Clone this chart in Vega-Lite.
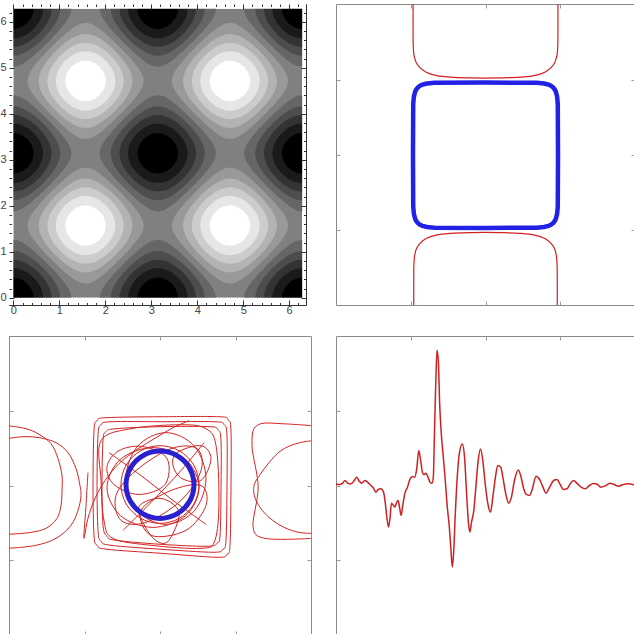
{
"$schema":"https://vega.github.io/schema/vega-lite/v6.json",
"padding":{"left":-1,"top":3,"right":0,"bottom":0},
"background":"white",
"bounds":"flush",
"columns":2,
"spacing":{"row":31,"column":25},
"config":{"axis":{"grid":false,"domain":false,"labelFont":"Liberation Sans","labelFontSize":11,"labelColor":"#444444","zindex":1},"view":{"stroke":"#8a8a8a","strokeWidth":1}},
"concat":[
{"width":297,"height":301,"view":{"stroke":"#333333"},
"layer":[
{"data":{"values":[{"x0":0,"x1":6.2832,"y0":0,"y1":6.2832}]},
"mark":{"type":"rect","color":"#808080","clip":true},
"encoding":{
"x":{"field":"x0","type":"quantitative","scale":{"domain":[-0.094,6.366],"nice":false,"zero":false},
"axis":{"orient":"bottom","zindex":1,"values":[0,0.2,0.4,0.6,0.8,1,1.2,1.4,1.6,1.8,2,2.2,2.4,2.6,2.8,3,3.2,3.4,3.6,3.8,4,4.2,4.4,4.6,4.8,5,5.2,5.4,5.6,5.8,6,6.2],"tickSize":{"condition":{"test":"datum.value % 1 === 0","value":-5},"value":-2.5},"tickColor":"#333333","labelExpr":"datum.value % 1 === 0 ? format(datum.value,'d') : ''","labelOverlap":false,"labelFlush":false,"labelBound":false,"labelPadding":4,"title":null}},
"x2":{"field":"x1"},
"y":{"field":"y0","type":"quantitative","scale":{"domain":[-0.155,6.385],"nice":false,"zero":false},
"axis":{"orient":"left","zindex":1,"values":[0,0.2,0.4,0.6,0.8,1,1.2,1.4,1.6,1.8,2,2.2,2.4,2.6,2.8,3,3.2,3.4,3.6,3.8,4,4.2,4.4,4.6,4.8,5,5.2,5.4,5.6,5.8,6,6.2],"tickSize":{"condition":{"test":"datum.value % 1 === 0","value":-5},"value":-2.5},"tickColor":"#333333","labelExpr":"datum.value % 1 === 0 ? format(datum.value,'d') : ''","labelOverlap":false,"labelFlush":false,"labelBound":false,"labelPadding":8,"title":null}},
"y2":{"field":"y1"}}},
{"data":{"values":[
{"cx":0,"cy":0,"ring":"r5","tone":4},{"cx":3.1416,"cy":0,"ring":"r5","tone":4},{"cx":6.2832,"cy":0,"ring":"r5","tone":4},{"cx":0,"cy":3.1416,"ring":"r5","tone":4},{"cx":3.1416,"cy":3.1416,"ring":"r5","tone":4},{"cx":6.2832,"cy":3.1416,"ring":"r5","tone":4},{"cx":0,"cy":6.2832,"ring":"r5","tone":4},{"cx":3.1416,"cy":6.2832,"ring":"r5","tone":4},{"cx":6.2832,"cy":6.2832,"ring":"r5","tone":4},
{"cx":1.5708,"cy":1.5708,"ring":"r5","tone":6},{"cx":4.7124,"cy":1.5708,"ring":"r5","tone":6},{"cx":1.5708,"cy":4.7124,"ring":"r5","tone":6},{"cx":4.7124,"cy":4.7124,"ring":"r5","tone":6},
{"cx":0,"cy":0,"ring":"r4","tone":3},{"cx":3.1416,"cy":0,"ring":"r4","tone":3},{"cx":6.2832,"cy":0,"ring":"r4","tone":3},{"cx":0,"cy":3.1416,"ring":"r4","tone":3},{"cx":3.1416,"cy":3.1416,"ring":"r4","tone":3},{"cx":6.2832,"cy":3.1416,"ring":"r4","tone":3},{"cx":0,"cy":6.2832,"ring":"r4","tone":3},{"cx":3.1416,"cy":6.2832,"ring":"r4","tone":3},{"cx":6.2832,"cy":6.2832,"ring":"r4","tone":3},
{"cx":1.5708,"cy":1.5708,"ring":"r4","tone":7},{"cx":4.7124,"cy":1.5708,"ring":"r4","tone":7},{"cx":1.5708,"cy":4.7124,"ring":"r4","tone":7},{"cx":4.7124,"cy":4.7124,"ring":"r4","tone":7},
{"cx":0,"cy":0,"ring":"r3","tone":2},{"cx":3.1416,"cy":0,"ring":"r3","tone":2},{"cx":6.2832,"cy":0,"ring":"r3","tone":2},{"cx":0,"cy":3.1416,"ring":"r3","tone":2},{"cx":3.1416,"cy":3.1416,"ring":"r3","tone":2},{"cx":6.2832,"cy":3.1416,"ring":"r3","tone":2},{"cx":0,"cy":6.2832,"ring":"r3","tone":2},{"cx":3.1416,"cy":6.2832,"ring":"r3","tone":2},{"cx":6.2832,"cy":6.2832,"ring":"r3","tone":2},
{"cx":1.5708,"cy":1.5708,"ring":"r3","tone":8},{"cx":4.7124,"cy":1.5708,"ring":"r3","tone":8},{"cx":1.5708,"cy":4.7124,"ring":"r3","tone":8},{"cx":4.7124,"cy":4.7124,"ring":"r3","tone":8},
{"cx":0,"cy":0,"ring":"r2","tone":1},{"cx":3.1416,"cy":0,"ring":"r2","tone":1},{"cx":6.2832,"cy":0,"ring":"r2","tone":1},{"cx":0,"cy":3.1416,"ring":"r2","tone":1},{"cx":3.1416,"cy":3.1416,"ring":"r2","tone":1},{"cx":6.2832,"cy":3.1416,"ring":"r2","tone":1},{"cx":0,"cy":6.2832,"ring":"r2","tone":1},{"cx":3.1416,"cy":6.2832,"ring":"r2","tone":1},{"cx":6.2832,"cy":6.2832,"ring":"r2","tone":1},
{"cx":1.5708,"cy":1.5708,"ring":"r2","tone":9},{"cx":4.7124,"cy":1.5708,"ring":"r2","tone":9},{"cx":1.5708,"cy":4.7124,"ring":"r2","tone":9},{"cx":4.7124,"cy":4.7124,"ring":"r2","tone":9},
{"cx":0,"cy":0,"ring":"r1","tone":0},{"cx":3.1416,"cy":0,"ring":"r1","tone":0},{"cx":6.2832,"cy":0,"ring":"r1","tone":0},{"cx":0,"cy":3.1416,"ring":"r1","tone":0},{"cx":3.1416,"cy":3.1416,"ring":"r1","tone":0},{"cx":6.2832,"cy":3.1416,"ring":"r1","tone":0},{"cx":0,"cy":6.2832,"ring":"r1","tone":0},{"cx":3.1416,"cy":6.2832,"ring":"r1","tone":0},{"cx":6.2832,"cy":6.2832,"ring":"r1","tone":0},
{"cx":1.5708,"cy":1.5708,"ring":"r1","tone":10},{"cx":4.7124,"cy":1.5708,"ring":"r1","tone":10},{"cx":1.5708,"cy":4.7124,"ring":"r1","tone":10},{"cx":4.7124,"cy":4.7124,"ring":"r1","tone":10}
]},
"mark":{"type":"point","filled":true,"opacity":1,"size":8464,"strokeWidth":0,"clip":true},
"encoding":{
"x":{"field":"cx","type":"quantitative","axis":null,"scale":{"domain":[-0.094,6.366],"nice":false,"zero":false}},
"y":{"field":"cy","type":"quantitative","axis":null,"scale":{"domain":[-0.155,6.385],"nice":false,"zero":false}},
"shape":{"field":"ring","type":"nominal","legend":null,"scale":{"domain":["r5","r4","r3","r2","r1"],"range":[
"M0,-1.264L0.1,-1.248L0.2,-1.202L0.3,-1.135L0.4,-1.056L0.5,-0.969L0.6,-0.876L0.7,-0.78L0.74,-0.74L0.78,-0.7L0.876,-0.6L0.969,-0.5L1.056,-0.4L1.135,-0.3L1.202,-0.2L1.248,-0.1L1.264,0L1.248,0.1L1.202,0.2L1.135,0.3L1.056,0.4L0.969,0.5L0.876,0.6L0.78,0.7L0.74,0.74L0.7,0.78L0.6,0.876L0.5,0.969L0.4,1.056L0.3,1.135L0.2,1.202L0.1,1.248L0,1.264L-0.1,1.248L-0.2,1.202L-0.3,1.135L-0.4,1.056L-0.5,0.969L-0.6,0.876L-0.7,0.78L-0.74,0.74L-0.78,0.7L-0.876,0.6L-0.969,0.5L-1.056,0.4L-1.135,0.3L-1.202,0.2L-1.248,0.1L-1.264,0L-1.248,-0.1L-1.202,-0.2L-1.135,-0.3L-1.056,-0.4L-0.969,-0.5L-0.876,-0.6L-0.78,-0.7L-0.74,-0.74L-0.7,-0.78L-0.6,-0.876L-0.5,-0.969L-0.4,-1.056L-0.3,-1.135L-0.2,-1.202L-0.1,-1.248Z",
"M0,-1.021L0.1,-1.01L0.2,-0.978L0.3,-0.927L0.4,-0.861L0.5,-0.783L0.6,-0.693L0.647,-0.647L0.693,-0.6L0.783,-0.5L0.861,-0.4L0.927,-0.3L0.978,-0.2L1.01,-0.1L1.021,0L1.01,0.1L0.978,0.2L0.927,0.3L0.861,0.4L0.783,0.5L0.693,0.6L0.647,0.647L0.6,0.693L0.5,0.783L0.4,0.861L0.3,0.927L0.2,0.978L0.1,1.01L0,1.021L-0.1,1.01L-0.2,0.978L-0.3,0.927L-0.4,0.861L-0.5,0.783L-0.6,0.693L-0.647,0.647L-0.693,0.6L-0.783,0.5L-0.861,0.4L-0.927,0.3L-0.978,0.2L-1.01,0.1L-1.021,0L-1.01,-0.1L-0.978,-0.2L-0.927,-0.3L-0.861,-0.4L-0.783,-0.5L-0.693,-0.6L-0.647,-0.647L-0.6,-0.693L-0.5,-0.783L-0.4,-0.861L-0.3,-0.927L-0.2,-0.978L-0.1,-1.01Z",
"M0,-0.831L0.1,-0.821L0.2,-0.791L0.3,-0.744L0.4,-0.678L0.5,-0.597L0.549,-0.549L0.597,-0.5L0.678,-0.4L0.744,-0.3L0.791,-0.2L0.821,-0.1L0.831,0L0.821,0.1L0.791,0.2L0.744,0.3L0.678,0.4L0.597,0.5L0.549,0.549L0.5,0.597L0.4,0.678L0.3,0.744L0.2,0.791L0.1,0.821L0,0.831L-0.1,0.821L-0.2,0.791L-0.3,0.744L-0.4,0.678L-0.5,0.597L-0.549,0.549L-0.597,0.5L-0.678,0.4L-0.744,0.3L-0.791,0.2L-0.821,0.1L-0.831,0L-0.821,-0.1L-0.791,-0.2L-0.744,-0.3L-0.678,-0.4L-0.597,-0.5L-0.549,-0.549L-0.5,-0.597L-0.4,-0.678L-0.3,-0.744L-0.2,-0.791L-0.1,-0.821Z",
"M0,-0.647L0.1,-0.637L0.2,-0.606L0.3,-0.554L0.4,-0.479L0.44,-0.44L0.479,-0.4L0.554,-0.3L0.606,-0.2L0.637,-0.1L0.647,0L0.637,0.1L0.606,0.2L0.554,0.3L0.479,0.4L0.44,0.44L0.4,0.479L0.3,0.554L0.2,0.606L0.1,0.637L0,0.647L-0.1,0.637L-0.2,0.606L-0.3,0.554L-0.4,0.479L-0.44,0.44L-0.479,0.4L-0.554,0.3L-0.606,0.2L-0.637,0.1L-0.647,0L-0.637,-0.1L-0.606,-0.2L-0.554,-0.3L-0.479,-0.4L-0.44,-0.44L-0.4,-0.479L-0.3,-0.554L-0.2,-0.606L-0.1,-0.637Z",
"M0,-0.441L0.1,-0.428L0.2,-0.387L0.307,-0.307L0.387,-0.2L0.428,-0.1L0.441,0L0.428,0.1L0.387,0.2L0.307,0.307L0.2,0.387L0.1,0.428L0,0.441L-0.1,0.428L-0.2,0.387L-0.307,0.307L-0.387,0.2L-0.428,0.1L-0.441,0L-0.428,-0.1L-0.387,-0.2L-0.307,-0.307L-0.2,-0.387L-0.1,-0.428Z"
]}},
"color":{"field":"tone","type":"ordinal","legend":null,"scale":{"domain":[0,1,2,3,4,5,6,7,8,9,10],"range":["#000000","#1a1a1a","#333333","#4d4d4d","#666666","#808080","#999999","#b3b3b3","#cccccc","#e6e6e6","#ffffff"]}}}},
{"data":{"values":[{"x0":-1,"x1":0,"y0":-1,"y1":8},{"x0":6.2832,"x1":8,"y0":-1,"y1":8},{"x0":-1,"x1":8,"y0":-1,"y1":0},{"x0":-1,"x1":8,"y0":6.2832,"y1":8}]},
"mark":{"type":"rect","color":"#ffffff","clip":true},
"encoding":{
"x":{"field":"x0","type":"quantitative","scale":{"domain":[-0.094,6.366],"nice":false,"zero":false},
"axis":{"orient":"top","zindex":1,"values":[0,0.2,0.4,0.6,0.8,1,1.2,1.4,1.6,1.8,2,2.2,2.4,2.6,2.8,3,3.2,3.4,3.6,3.8,4,4.2,4.4,4.6,4.8,5,5.2,5.4,5.6,5.8,6,6.2],"tickSize":{"condition":{"test":"datum.value % 1 === 0","value":-5},"value":-2.5},"tickColor":"#333333","labels":false,"title":null}},
"x2":{"field":"x1"},
"y":{"field":"y0","type":"quantitative","scale":{"domain":[-0.155,6.385],"nice":false,"zero":false},
"axis":{"orient":"right","zindex":1,"values":[0,0.2,0.4,0.6,0.8,1,1.2,1.4,1.6,1.8,2,2.2,2.4,2.6,2.8,3,3.2,3.4,3.6,3.8,4,4.2,4.4,4.6,4.8,5,5.2,5.4,5.6,5.8,6,6.2],"tickSize":{"condition":{"test":"datum.value % 1 === 0","value":-5},"value":-2.5},"tickColor":"#333333","labels":false,"title":null}},
"y2":{"field":"y1"}}}
],
"resolve":{"axis":{"x":"independent","y":"independent"}}},

{"width":299,"height":301,
"layer":[
{"data":{"values":[
{"s":"u","x":1.031,"y":4.02},{"s":"u","x":1.031,"y":3.667},{"s":"u","x":1.033,"y":3.467},{"s":"u","x":1.044,"y":3.333},{"s":"u","x":1.073,"y":3.24},{"s":"u","x":1.12,"y":3.173},{"s":"u","x":1.2,"y":3.113},{"s":"u","x":1.333,"y":3.067},{"s":"u","x":1.533,"y":3.043},{"s":"u","x":1.8,"y":3.033},{"s":"u","x":2.0,"y":3.031},{"s":"u","x":2.2,"y":3.033},{"s":"u","x":2.467,"y":3.043},{"s":"u","x":2.667,"y":3.067},{"s":"u","x":2.8,"y":3.113},{"s":"u","x":2.88,"y":3.173},{"s":"u","x":2.927,"y":3.24},{"s":"u","x":2.956,"y":3.333},{"s":"u","x":2.967,"y":3.467},{"s":"u","x":2.969,"y":3.667},{"s":"u","x":2.969,"y":4.02},
{"s":"d","x":1.04,"y":-0.02},{"s":"d","x":1.04,"y":0.333},{"s":"d","x":1.042,"y":0.533},{"s":"d","x":1.053,"y":0.667},{"s":"d","x":1.08,"y":0.76},{"s":"d","x":1.127,"y":0.827},{"s":"d","x":1.207,"y":0.887},{"s":"d","x":1.34,"y":0.933},{"s":"d","x":1.54,"y":0.957},{"s":"d","x":1.8,"y":0.967},{"s":"d","x":2.0,"y":0.969},{"s":"d","x":2.2,"y":0.967},{"s":"d","x":2.46,"y":0.957},{"s":"d","x":2.66,"y":0.933},{"s":"d","x":2.793,"y":0.887},{"s":"d","x":2.873,"y":0.827},{"s":"d","x":2.92,"y":0.76},{"s":"d","x":2.947,"y":0.667},{"s":"d","x":2.958,"y":0.533},{"s":"d","x":2.96,"y":0.333},{"s":"d","x":2.96,"y":-0.02}
]},
"mark":{"type":"line","color":"#d42020","strokeWidth":1.2,"interpolate":"catmull-rom","clip":true},
"encoding":{
"x":{"field":"x","type":"quantitative","scale":{"domain":[0,4],"nice":false,"zero":false},"axis":{"orient":"bottom","values":[1,2,3],"labels":false,"tickSize":-4,"tickColor":"#9a9a9a","title":null}},
"y":{"field":"y","type":"quantitative","scale":{"domain":[0,4.02],"nice":false,"zero":false},"axis":{"orient":"left","values":[1,2,3],"labels":false,"tickSize":-4,"tickColor":"#9a9a9a","title":null}},
"detail":{"field":"s"},"order":{"value":null}}},
{"data":{"values":[
{"x":2.97,"y":2.0},{"x":2.967,"y":2.6835},{"x":2.958,"y":2.7827},{"x":2.9425,"y":2.8444},{"x":2.9321,"y":2.8679},{"x":2.9196,"y":2.8879},{"x":2.905,"y":2.905},{"x":2.8879,"y":2.9196},{"x":2.8679,"y":2.9321},{"x":2.8444,"y":2.9425},{"x":2.7827,"y":2.958},{"x":2.6835,"y":2.967},{"x":2.0,"y":2.97},
{"x":1.3165,"y":2.967},{"x":1.2173,"y":2.958},{"x":1.1556,"y":2.9425},{"x":1.1321,"y":2.9321},{"x":1.1121,"y":2.9196},{"x":1.095,"y":2.905},{"x":1.0804,"y":2.8879},{"x":1.0679,"y":2.8679},{"x":1.0575,"y":2.8444},{"x":1.042,"y":2.7827},{"x":1.033,"y":2.6835},{"x":1.03,"y":2.0},
{"x":1.033,"y":1.3165},{"x":1.042,"y":1.2173},{"x":1.0575,"y":1.1556},{"x":1.0679,"y":1.1321},{"x":1.0804,"y":1.1121},{"x":1.095,"y":1.095},{"x":1.1121,"y":1.0804},{"x":1.1321,"y":1.0679},{"x":1.1556,"y":1.0575},{"x":1.2173,"y":1.042},{"x":1.3165,"y":1.033},{"x":2.0,"y":1.03},
{"x":2.6835,"y":1.033},{"x":2.7827,"y":1.042},{"x":2.8444,"y":1.0575},{"x":2.8679,"y":1.0679},{"x":2.8879,"y":1.0804},{"x":2.905,"y":1.095},{"x":2.9196,"y":1.1121},{"x":2.9321,"y":1.1321},{"x":2.9425,"y":1.1556},{"x":2.958,"y":1.2173},{"x":2.967,"y":1.3165},{"x":2.97,"y":2.0}
]},
"mark":{"type":"line","color":"#2222e6","strokeWidth":4.5,"strokeJoin":"round"},
"encoding":{
"x":{"field":"x","type":"quantitative","scale":{"domain":[0,4],"nice":false,"zero":false},"axis":{"orient":"top","values":[1,2,3],"labels":false,"tickSize":-4,"tickColor":"#9a9a9a","title":null}},
"y":{"field":"y","type":"quantitative","scale":{"domain":[0,4.02],"nice":false,"zero":false},"axis":{"orient":"right","values":[1,2,3],"labels":false,"tickSize":-4,"tickColor":"#9a9a9a","title":null}},
"order":{"value":null}}}
],
"resolve":{"axis":{"x":"independent","y":"independent"}}},

{"width":302,"height":299,
"layer":[
{"data":{"values":[
{"s":"A","x":1.285,"y":2.907},{"s":"A","x":2.013,"y":2.92},{"s":"A","x":2.781,"y":2.92},{"s":"A","x":2.901,"y":2.88},{"s":"A","x":2.94,"y":2.733},{"s":"A","x":2.94,"y":1.933},{"s":"A","x":2.927,"y":1.2},{"s":"A","x":2.887,"y":1.08},{"s":"A","x":2.755,"y":1.04},{"s":"A","x":2.013,"y":1.093},{"s":"A","x":1.298,"y":1.147},{"s":"A","x":1.166,"y":1.2},{"s":"A","x":1.126,"y":1.333},{"s":"A","x":1.113,"y":2.0},{"s":"A","x":1.126,"y":2.733},{"s":"A","x":1.166,"y":2.867},
{"s":"B","x":1.351,"y":2.853},{"s":"B","x":2.013,"y":2.853},{"s":"B","x":2.728,"y":2.853},{"s":"B","x":2.848,"y":2.813},{"s":"B","x":2.887,"y":2.667},{"s":"B","x":2.887,"y":1.933},{"s":"B","x":2.874,"y":1.267},{"s":"B","x":2.834,"y":1.147},{"s":"B","x":2.702,"y":1.107},{"s":"B","x":2.013,"y":1.147},{"s":"B","x":1.351,"y":1.2},{"s":"B","x":1.219,"y":1.253},{"s":"B","x":1.179,"y":1.4},{"s":"B","x":1.166,"y":2.0},{"s":"B","x":1.179,"y":2.68},{"s":"B","x":1.219,"y":2.813},
{"s":"C","x":1.417,"y":2.76},{"s":"C","x":2.013,"y":2.787},{"s":"C","x":2.649,"y":2.787},{"s":"C","x":2.768,"y":2.747},{"s":"C","x":2.808,"y":2.6},{"s":"C","x":2.808,"y":1.933},{"s":"C","x":2.795,"y":1.333},{"s":"C","x":2.755,"y":1.227},{"s":"C","x":2.623,"y":1.187},{"s":"C","x":2.013,"y":1.213},{"s":"C","x":1.417,"y":1.267},{"s":"C","x":1.298,"y":1.32},{"s":"C","x":1.245,"y":1.467},{"s":"C","x":1.232,"y":2.0},{"s":"C","x":1.245,"y":2.6},{"s":"C","x":1.285,"y":2.72},
{"s":"D","x":1.219,"y":2.6},{"s":"D","x":1.616,"y":2.76},{"s":"D","x":2.278,"y":2.813},{"s":"D","x":2.609,"y":2.76},{"s":"D","x":2.742,"y":2.533},{"s":"D","x":2.781,"y":1.8},{"s":"D","x":2.728,"y":1.267},{"s":"D","x":2.543,"y":1.16},{"s":"D","x":1.881,"y":1.2},{"s":"D","x":1.377,"y":1.293},{"s":"D","x":1.258,"y":1.533},{"s":"D","x":1.219,"y":2.067},
{"s":"I1","x":2.517,"y":1.973},{"s":"I1","x":2.338,"y":1.596},{"s":"I1","x":1.907,"y":1.44},{"s":"I1","x":1.477,"y":1.596},{"s":"I1","x":1.298,"y":1.973},{"s":"I1","x":1.477,"y":2.351},{"s":"I1","x":1.907,"y":2.507},{"s":"I1","x":2.338,"y":2.351},
{"s":"I2","x":2.609,"y":2.093},{"s":"I2","x":2.454,"y":1.66},{"s":"I2","x":2.079,"y":1.48},{"s":"I2","x":1.705,"y":1.66},{"s":"I2","x":1.55,"y":2.093},{"s":"I2","x":1.705,"y":2.527},{"s":"I2","x":2.079,"y":2.707},{"s":"I2","x":2.454,"y":2.527},
{"s":"I3","x":1.298,"y":2.253},{"s":"I3","x":1.457,"y":2.467},{"s":"I3","x":1.775,"y":2.52},{"s":"I3","x":2.093,"y":2.36},{"s":"I3","x":2.066,"y":2.013},{"s":"I3","x":1.722,"y":1.88},{"s":"I3","x":1.391,"y":2.013},
{"s":"I4","x":1.722,"y":1.72},{"s":"I4","x":2.013,"y":1.827},{"s":"I4","x":2.252,"y":1.64},{"s":"I4","x":2.119,"y":1.267},{"s":"I4","x":1.96,"y":1.253},{"s":"I4","x":1.801,"y":1.453},
{"s":"I5","x":2.225,"y":2.44},{"s":"I5","x":2.543,"y":2.533},{"s":"I5","x":2.675,"y":2.36},{"s":"I5","x":2.543,"y":2.067},{"s":"I5","x":2.291,"y":2.093},{"s":"I5","x":2.172,"y":2.267},
{"s":"I6","x":1.483,"y":1.533},{"s":"I6","x":1.417,"y":1.867},{"s":"I6","x":1.682,"y":2.2},{"s":"I6","x":2.146,"y":2.493},{"s":"I6","x":2.49,"y":2.493},{"s":"I6","x":2.543,"y":2.2},{"s":"I6","x":2.278,"y":1.8},{"s":"I6","x":1.815,"y":1.507},
{"s":"I7","x":1.881,"y":1.333},{"s":"I7","x":2.344,"y":1.4},{"s":"I7","x":2.609,"y":1.733},{"s":"I7","x":2.543,"y":2.0},{"s":"I7","x":2.146,"y":1.933},{"s":"I7","x":1.748,"y":1.667},
{"s":"R0","x":2.517,"y":2.013},{"s":"R0","x":2.448,"y":2.273},{"s":"R0","x":2.258,"y":2.463},{"s":"R0","x":2.0,"y":2.533},{"s":"R0","x":1.742,"y":2.463},{"s":"R0","x":1.552,"y":2.273},{"s":"R0","x":1.483,"y":2.013},{"s":"R0","x":1.552,"y":1.753},{"s":"R0","x":1.742,"y":1.563},{"s":"R0","x":2.0,"y":1.493},{"s":"R0","x":2.258,"y":1.563},{"s":"R0","x":2.448,"y":1.753}
]},
"mark":{"type":"line","color":"#d42424","strokeWidth":1,"interpolate":"cardinal-closed","clip":true},
"encoding":{
"x":{"field":"x","type":"quantitative","scale":{"domain":[0,4],"nice":false,"zero":false},"axis":{"orient":"bottom","values":[1,2,3],"labels":false,"tickSize":-4,"tickColor":"#9a9a9a","title":null}},
"y":{"field":"y","type":"quantitative","scale":{"domain":[0,4],"nice":false,"zero":false},"axis":{"orient":"left","values":[1,2,3],"labels":false,"tickSize":-4,"tickColor":"#9a9a9a","title":null}},
"detail":{"field":"s"},"order":{"value":null}}},
{"data":{"values":[
{"s":"L1","x":-0.02,"y":2.8},{"s":"L1","x":0.225,"y":2.76},{"s":"L1","x":0.384,"y":2.693},{"s":"L1","x":0.556,"y":2.56},{"s":"L1","x":0.649,"y":2.36},{"s":"L1","x":0.702,"y":2.133},{"s":"L1","x":0.702,"y":1.933},{"s":"L1","x":0.689,"y":1.733},{"s":"L1","x":0.636,"y":1.56},{"s":"L1","x":0.49,"y":1.427},{"s":"L1","x":0.291,"y":1.373},{"s":"L1","x":-0.02,"y":1.347},
{"s":"L2","x":-0.02,"y":2.627},{"s":"L2","x":0.185,"y":2.653},{"s":"L2","x":0.397,"y":2.64},{"s":"L2","x":0.623,"y":2.573},{"s":"L2","x":0.781,"y":2.44},{"s":"L2","x":0.887,"y":2.227},{"s":"L2","x":0.94,"y":2.0},{"s":"L2","x":0.954,"y":1.867},{"s":"L2","x":0.914,"y":1.667},{"s":"L2","x":0.821,"y":1.467},{"s":"L2","x":0.623,"y":1.293},{"s":"L2","x":0.358,"y":1.2},{"s":"L2","x":-0.02,"y":1.16},
{"s":"V","x":1.046,"y":2.173},{"s":"V","x":1.02,"y":1.733},{"s":"V","x":0.993,"y":1.293},{"s":"V","x":1.046,"y":1.56},{"s":"V","x":1.139,"y":1.827},{"s":"V","x":1.272,"y":2.067},{"s":"V","x":1.457,"y":2.293},{"s":"V","x":1.695,"y":2.48},{"s":"V","x":1.947,"y":2.64},{"s":"V","x":2.172,"y":2.773},{"s":"V","x":2.384,"y":2.867},
{"s":"C1","x":4.02,"y":2.8},{"s":"C1","x":3.603,"y":2.827},{"s":"C1","x":3.338,"y":2.827},{"s":"C1","x":3.245,"y":2.76},{"s":"C1","x":3.219,"y":2.533},{"s":"C1","x":3.3,"y":1.98},{"s":"C1","x":3.232,"y":1.45},{"s":"C1","x":3.272,"y":1.34},{"s":"C1","x":3.391,"y":1.293},{"s":"C1","x":3.669,"y":1.28},{"s":"C1","x":4.02,"y":1.293},
{"s":"C2","x":4.02,"y":2.6},{"s":"C2","x":3.801,"y":2.56},{"s":"C2","x":3.603,"y":2.467},{"s":"C2","x":3.444,"y":2.307},{"s":"C2","x":3.33,"y":2.15},{"s":"C2","x":3.255,"y":2.03},{"s":"C2","x":3.24,"y":1.933},{"s":"C2","x":3.26,"y":1.83},{"s":"C2","x":3.33,"y":1.7},{"s":"C2","x":3.444,"y":1.573},{"s":"C2","x":3.642,"y":1.44},{"s":"C2","x":3.841,"y":1.373},{"s":"C2","x":4.02,"y":1.36},
{"s":"O1","x":1.324,"y":2.44},{"s":"O1","x":1.748,"y":2.133},{"s":"O1","x":2.172,"y":1.8},{"s":"O1","x":2.609,"y":1.48},
{"s":"O2","x":1.51,"y":1.4},{"s":"O2","x":1.881,"y":1.773},{"s":"O2","x":2.278,"y":2.2},{"s":"O2","x":2.583,"y":2.573}
]},
"mark":{"type":"line","color":"#d42424","strokeWidth":1,"interpolate":"catmull-rom","clip":true},
"encoding":{
"x":{"field":"x","type":"quantitative","axis":null,"scale":{"domain":[0,4],"nice":false,"zero":false}},
"y":{"field":"y","type":"quantitative","axis":null,"scale":{"domain":[0,4],"nice":false,"zero":false}},
"detail":{"field":"s"},"order":{"value":null}}},
{"data":{"values":[
{"x":2.45,"y":2.01},{"x":2.39,"y":2.235},{"x":2.225,"y":2.4},{"x":2.0,"y":2.46},{"x":1.775,"y":2.4},{"x":1.61,"y":2.235},{"x":1.55,"y":2.01},{"x":1.61,"y":1.785},{"x":1.775,"y":1.62},{"x":2.0,"y":1.56},{"x":2.225,"y":1.62},{"x":2.39,"y":1.785}
]},
"mark":{"type":"line","color":"#2a20d0","strokeWidth":5,"interpolate":"cardinal-closed"},
"encoding":{
"x":{"field":"x","type":"quantitative","scale":{"domain":[0,4],"nice":false,"zero":false},"axis":{"orient":"top","values":[1,2,3],"labels":false,"tickSize":-4,"tickColor":"#9a9a9a","title":null}},
"y":{"field":"y","type":"quantitative","scale":{"domain":[0,4],"nice":false,"zero":false},"axis":{"orient":"right","values":[1,2,3],"labels":false,"tickSize":-4,"tickColor":"#9a9a9a","title":null}},
"order":{"value":null}}}
],
"resolve":{"axis":{"x":"independent","y":"independent"}}},

{"width":299,"height":299,
"data":{"values":[
{"x":0,"y":2.022},{"x":0.044,"y":2.013},{"x":0.089,"y":2.031},{"x":0.12,"y":2.067},{"x":0.156,"y":2.031},{"x":0.2,"y":2.022},{"x":0.244,"y":2.067},{"x":0.276,"y":2.111},{"x":0.311,"y":2.058},{"x":0.342,"y":2.031},{"x":0.387,"y":2.067},{"x":0.422,"y":2.044},{"x":0.467,"y":2.0},{"x":0.502,"y":1.964},{"x":0.533,"y":1.911},{"x":0.564,"y":1.947},{"x":0.6,"y":1.956},{"x":0.636,"y":1.911},{"x":0.658,"y":1.778},{"x":0.68,"y":1.578},{"x":0.702,"y":1.444},{"x":0.724,"y":1.578},{"x":0.742,"y":1.764},{"x":0.769,"y":1.733},{"x":0.787,"y":1.711},{"x":0.813,"y":1.778},{"x":0.831,"y":1.8},{"x":0.853,"y":1.689},{"x":0.871,"y":1.6},{"x":0.893,"y":1.733},{"x":0.92,"y":1.889},{"x":0.956,"y":1.978},{"x":0.991,"y":2.089},{"x":1.022,"y":2.12},{"x":1.053,"y":2.111},{"x":1.08,"y":2.222},{"x":1.107,"y":2.467},{"x":1.133,"y":2.333},{"x":1.156,"y":2.178},{"x":1.178,"y":2.147},{"x":1.204,"y":2.164},{"x":1.231,"y":2.111},{"x":1.258,"y":2.044},{"x":1.284,"y":2.031},{"x":1.302,"y":2.111},{"x":1.316,"y":2.644},{"x":1.333,"y":3.311},{"x":1.351,"y":3.809},{"x":1.369,"y":3.667},{"x":1.387,"y":3.089},{"x":1.409,"y":2.689},{"x":1.436,"y":2.378},{"x":1.462,"y":2.067},{"x":1.489,"y":1.711},{"x":1.516,"y":1.444},{"x":1.538,"y":1.133},{"x":1.556,"y":0.911},{"x":1.573,"y":1.089},{"x":1.596,"y":1.622},{"x":1.622,"y":2.111},{"x":1.649,"y":2.422},{"x":1.689,"y":2.556},{"x":1.72,"y":2.378},{"x":1.747,"y":1.889},{"x":1.773,"y":1.489},{"x":1.791,"y":1.378},{"x":1.813,"y":1.511},{"x":1.844,"y":1.667},{"x":1.871,"y":1.978},{"x":1.902,"y":2.333},{"x":1.933,"y":2.489},{"x":1.964,"y":2.333},{"x":1.996,"y":2.022},{"x":2.036,"y":1.733},{"x":2.067,"y":1.644},{"x":2.098,"y":1.844},{"x":2.133,"y":2.111},{"x":2.164,"y":2.267},{"x":2.204,"y":2.244},{"x":2.236,"y":2.089},{"x":2.271,"y":1.889},{"x":2.311,"y":1.764},{"x":2.347,"y":1.844},{"x":2.387,"y":2.067},{"x":2.44,"y":2.209},{"x":2.476,"y":2.111},{"x":2.511,"y":1.956},{"x":2.547,"y":1.88},{"x":2.591,"y":1.867},{"x":2.627,"y":1.956},{"x":2.676,"y":2.124},{"x":2.724,"y":2.08},{"x":2.769,"y":1.978},{"x":2.809,"y":1.898},{"x":2.858,"y":1.978},{"x":2.911,"y":2.067},{"x":2.956,"y":2.08},{"x":3.0,"y":2.013},{"x":3.04,"y":1.947},{"x":3.089,"y":1.956},{"x":3.133,"y":2.022},{"x":3.178,"y":2.067},{"x":3.222,"y":2.031},{"x":3.28,"y":1.978},{"x":3.333,"y":1.956},{"x":3.391,"y":2.0},{"x":3.444,"y":2.027},{"x":3.498,"y":2.013},{"x":3.542,"y":1.978},{"x":3.604,"y":1.996},{"x":3.667,"y":2.031},{"x":3.72,"y":2.013},{"x":3.778,"y":1.991},{"x":3.844,"y":2.013},{"x":3.911,"y":2.022},{"x":3.987,"y":2.009}
]},
"mark":{"type":"line","color":"#cc2222","strokeWidth":1.5,"interpolate":"monotone","clip":true},
"encoding":{
"x":{"field":"x","type":"quantitative","scale":{"domain":[0,4],"nice":false,"zero":false},"axis":{"orient":"top","values":[1,2,3],"labels":false,"tickSize":-4,"tickColor":"#9a9a9a","title":null}},
"y":{"field":"y","type":"quantitative","scale":{"domain":[0,4],"nice":false,"zero":false},"axis":{"orient":"left","values":[1,2,3],"labels":false,"tickSize":-4,"tickColor":"#9a9a9a","title":null}},
"order":{"value":null}}}
]
}
